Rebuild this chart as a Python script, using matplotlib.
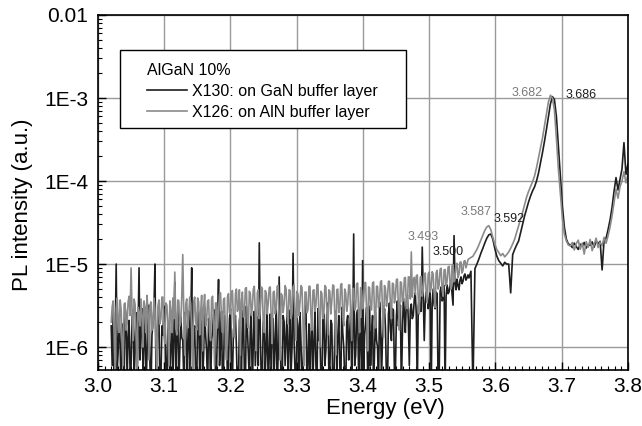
import numpy as np
import matplotlib
matplotlib.use("Agg")
import matplotlib.pyplot as plt
from matplotlib.patches import Rectangle
from matplotlib.ticker import FixedLocator, MultipleLocator, NullFormatter

plt.rcParams["font.family"] = ["Liberation Sans", "DejaVu Sans"]

# PL spectra of AlGaN 10%, intensity in units of 1E-6 (a.u.)
# noisy tail: 3.0200 .. 3.5585 eV every 1.5 meV
# band edge:  3.560  .. 3.800  eV every 3 meV
tail_first, tail_last = 3.020, 3.5585
edge_first, edge_last = 3.560, 3.800

# X130: on GaN buffer layer
x130_tail = [
    1.8, 0.6, 2.7, 0.3, 1.2, 10.0, 0.5, 0.9, 2.4, 1.1, 0.2, 1.9, 1.5, 0.4, 3.0, 2.2, 0.4, 1.3, 2.1, 0.5,
    0.6, 2.3, 2.8, 0.4, 1.1, 2.6, 0.3, 1.5, 9.0, 0.7, 1.7, 2.9, 0.5, 1.2, 2.5, 0.3, 0.8, 2.7, 3.2, 0.6,
    0.3, 1.4, 1.9, 2.8, 10.0, 0.5, 0.7, 2.2, 2.6, 0.3, 0.4, 1.8, 1.4, 2.9, 3.1, 0.6, 0.25, 1.6, 2.0, 0.4,
    1.0, 2.4, 0.4, 1.2, 6.0, 0.5, 1.6, 2.7, 0.3, 0.9, 2.3, 1.3, 1.2, 0.4, 2.6, 1.8, 0.5, 1.1, 2.7, 0.3,
    2.2, 9.0, 0.6, 1.5, 1.8, 0.4, 0.3, 2.6, 2.5, 0.5, 1.3, 2.1, 0.4, 0.8, 3.0, 1.4, 0.9, 0.3, 2.2, 1.7,
    0.3, 1.2, 1.6, 2.5, 2.8, 0.4, 0.5, 2.0, 6.5, 0.6, 1.1, 2.7, 0.3, 0.5, 2.4, 1.9, 1.5, 0.4, 0.6, 2.2,
    2.9, 0.7, 0.4, 1.6, 1.9, 2.4, 1.0, 0.3, 0.3, 2.1, 2.6, 0.5, 1.4, 2.8, 0.5, 0.3, 3.1, 1.7, 0.8, 0.4,
    1.7, 2.5, 0.3, 1.1, 2.7, 0.6, 1.2, 2.3, 0.6, 18.0, 1.5, 0.4, 0.4, 2.0, 2.2, 0.5, 1.0, 2.6, 0.3, 0.8,
    2.5, 0.4, 1.5, 2.2, 0.5, 1.1, 3.0, 0.3, 0.8, 7.0, 1.6, 0.3, 0.3, 2.4, 2.0, 0.6, 1.3, 2.7, 0.4, 1.0,
    2.8, 0.5, 1.0, 13.5, 1.2, 0.5, 0.3, 2.2, 1.8, 0.4, 2.6, 1.1, 0.3, 0.6, 1.4, 2.5, 3.2, 0.3, 0.7, 1.9,
    0.3, 1.3, 2.3, 0.4, 1.1, 2.7, 0.6, 0.3, 2.9, 1.2, 1.6, 0.4, 0.3, 2.2, 2.5, 0.6, 0.9, 2.8, 3.4, 0.5,
    0.5, 2.1, 1.9, 0.3, 0.3, 1.6, 2.7, 0.5, 1.3, 2.4, 0.6, 0.3, 3.0, 1.5, 1.0, 0.4, 0.3, 2.0, 2.4, 0.7,
    1.5, 2.6, 0.4, 1.3, 23.0, 0.6, 0.8, 2.5, 2.8, 0.4, 1.2, 2.2, 0.3, 11.0, 0.5, 1.4, 1.9, 3.0, 0.5, 0.3,
    3.1, 0.6, 1.4, 2.4, 0.3, 0.9, 2.6, 1.2, 1.0, 0.3, 3.5, 2.0, 0.4, 1.3, 2.2, 2.9, 1.7, 0.4, 0.3, 2.5,
    3.4, 1.6, 1.2, 2.9, 2.8, 0.5, 0.5, 2.4, 3.6, 1.8, 2.0, 3.2, 0.3, 1.4, 3.9, 2.6, 1.5, 3.5, 4.2, 2.1,
    0.6, 2.8, 3.3, 2.2, 2.4, 3.8, 4.5, 2.5, 0.3, 3.1, 4.0, 2.7, 2.7, 16.0, 4.1, 1.2, 3.4, 4.6, 4.4, 2.9,
    3.6, 4.8, 0.3, 3.3, 5.0, 3.2, 2.9, 4.6, 4.4, 0.3, 0.4, 4.7, 5.3, 3.6, 3.8, 5.5, 0.3, 4.1, 5.6, 4.4,
    4.6, 5.8, 6.0, 4.4, 3.2, 22.0, 5.8, 4.9, 6.6, 5.5, 4.9, 6.4, 7.0, 5.8, 6.2, 7.2, 7.6, 6.4, 6.8, 7.4,
]
x130_edge = [
    6.8, 8.2, 0.3, 8.8, 10.0, 11.5, 13.5, 15.5, 18.0, 20.5,
    22.5, 23.0, 20.0, 15.5, 12.5, 11.0, 10.2, 9.5, 10.5, 10.0,
    10.0, 4.5, 13.0, 15.0, 17.0, 19.0, 24.0, 30.0, 38.0, 46.0,
    56.0, 66.0, 76.0, 85.0, 100.0, 125.0, 165.0, 220.0, 300.0, 420.0,
    600.0, 850.0, 1040.0, 960.0, 600.0, 260.0, 110.0, 50.0, 28.0, 20.0,
    17.5, 17.0, 15.8, 17.9, 16.2, 15.0, 17.4, 16.4, 18.2, 15.6,
    17.1, 16.8, 18.5, 16.0, 19.0, 17.5, 18.8, 8.5, 19.5, 20.5,
    26.0, 34.0, 48.0, 75.0, 110.0, 78.0, 105.0, 140.0, 290.0, 120.0,
    160.0,
]

# X126: on AlN buffer layer
x126_tail = [
    2.0, 3.1, 3.6, 1.3, 0.4, 2.9, 3.9, 2.2, 1.5, 3.7, 2.8, 1.0, 0.6, 3.3, 3.4, 1.6, 1.9, 3.5, 4.1, 2.4,
    9.0, 2.6, 1.2, 3.8, 3.3, 1.4, 0.5, 3.0, 2.6, 1.8, 3.8, 2.3, 1.0, 3.6, 3.0, 1.5, 4.2, 2.7, 0.7, 3.2,
    3.5, 1.6, 1.8, 3.9, 2.9, 1.2, 0.4, 3.1, 3.7, 1.9, 2.2, 4.0, 4.0, 1.4, 1.1, 3.4, 3.2, 2.0, 0.6, 3.6,
    2.7, 1.5, 3.9, 2.2, 8.0, 1.7, 1.4, 3.7, 3.6, 1.8, 2.0, 4.1, 13.0, 2.5, 0.8, 3.3, 3.8, 1.7, 2.4, 4.0,
    3.3, 1.6, 0.5, 3.5, 4.0, 2.1, 1.6, 3.9, 3.5, 1.4, 2.6, 4.2, 0.9, 3.0, 4.3, 1.8, 2.1, 3.6, 3.7, 1.5,
    1.2, 3.8, 4.1, 2.0, 0.6, 3.4, 3.4, 1.7, 2.8, 4.3, 4.5, 2.2, 1.5, 3.7, 3.9, 1.3, 0.7, 4.0, 4.4, 2.6,
    2.5, 4.6, 4.8, 2.1, 1.3, 4.4, 5.0, 2.7, 3.1, 4.9, 0.8, 3.6, 4.6, 2.3, 2.4, 5.1, 5.2, 2.0, 1.7, 4.7,
    4.4, 2.4, 3.0, 5.0, 5.4, 2.6, 0.9, 4.5, 4.9, 2.2, 2.7, 5.3, 5.1, 2.0, 1.5, 4.8, 4.5, 2.5, 3.4, 5.2,
    5.3, 2.3, 1.1, 4.6, 4.7, 2.5, 2.9, 5.4, 5.5, 2.1, 0.7, 4.4, 4.2, 2.6, 3.3, 5.5, 5.0, 2.4, 1.9, 4.9,
    4.8, 2.2, 2.6, 5.3, 5.6, 2.5, 1.2, 4.7, 4.3, 2.4, 3.5, 5.5, 5.2, 2.0, 0.6, 4.6, 4.6, 2.6, 2.8, 5.4,
    5.4, 2.4, 1.6, 4.8, 4.9, 2.7, 3.2, 5.6, 5.7, 2.3, 1.0, 4.7, 4.4, 2.2, 2.5, 5.5, 5.3, 2.8, 1.4, 4.9,
    4.7, 2.5, 3.6, 5.6, 5.5, 2.4, 0.8, 4.9, 5.0, 2.6, 2.9, 5.7, 5.8, 2.3, 1.8, 5.0, 4.5, 2.7, 3.3, 5.6,
    5.6, 2.6, 1.2, 5.0, 5.1, 2.8, 3.0, 5.8, 5.9, 2.4, 1.5, 5.2, 4.8, 2.9, 3.7, 5.9, 6.0, 2.7, 0.9, 5.3,
    5.2, 2.9, 2.8, 5.9, 6.1, 2.6, 1.7, 5.4, 5.4, 3.0, 3.5, 6.1, 6.3, 2.8, 1.3, 5.5, 5.0, 3.1, 3.9, 6.2,
    6.2, 3.2, 2.2, 5.9, 5.7, 3.4, 4.0, 6.5, 6.6, 3.0, 1.6, 6.1, 6.0, 3.5, 3.8, 6.8, 6.9, 3.3, 2.9, 7.0,
    7.0, 3.8, 14.0, 4.0, 6.4, 6.9, 4.3, 7.2, 7.4, 3.9, 2.5, 6.9, 7.1, 4.1, 4.8, 7.5, 7.8, 4.4, 3.4, 7.6,
    8.0, 4.6, 5.2, 8.1, 7.6, 4.2, 3.0, 7.9, 8.4, 5.0, 5.6, 8.7, 8.9, 4.9, 4.1, 8.5, 8.6, 5.5, 6.2, 9.2,
    9.4, 5.6, 5.0, 9.5, 9.8, 6.1, 6.8, 10.0, 10.2, 6.9, 7.5, 10.5, 10.6, 7.8, 8.4, 10.8, 11.0, 9.0, 10.0, 11.2,
]
x126_edge = [
    11.6, 12.0, 12.4, 13.6, 15.0, 17.0, 19.5, 22.5, 25.5, 28.0,
    29.0, 26.0, 21.0, 17.5, 15.0, 13.8, 12.6, 13.4, 12.2, 13.0,
    14.0, 15.5, 17.5, 20.0, 24.0, 29.0, 35.0, 42.0, 52.0, 64.0,
    75.0, 86.0, 98.0, 115.0, 145.0, 190.0, 250.0, 330.0, 460.0, 650.0,
    900.0, 1080.0, 1000.0, 720.0, 330.0, 140.0, 70.0, 36.0, 23.0, 19.0,
    17.0, 16.5, 18.2, 14.8, 17.6, 19.4, 15.1, 17.9, 13.2, 18.6,
    16.0, 19.8, 14.5, 17.3, 20.5, 15.8, 18.4, 16.6, 21.0, 17.8,
    22.0, 28.0, 38.0, 55.0, 80.0, 62.0, 85.0, 100.0, 130.0, 95.0,
    120.0,
]

# peak energies written next to the spectra
peak_names = ["3.493", "3.500", "3.587", "3.592", "3.682", "3.686"]
peak_text_x = [3.491, 3.529, 3.571, 3.620, 3.648, 3.729]
peak_text_y = [2.1e-5, 1.4e-5, 4.2e-5, 3.5e-5, 1.15e-3, 1.09e-3]
peak_dark = [False, True, False, True, False, True]

ytick_vals = [1e-6, 1e-5, 1e-4, 1e-3, 1e-2]
ytick_text = ["1E-6", "1E-5", "1E-4", "1E-3", "0.01"]
xtick_vals = [3.0, 3.1, 3.2, 3.3, 3.4, 3.5, 3.6, 3.7, 3.8]

black = "#1e1e1e"
grey = "#8a8a8a"

energy = np.concatenate([np.linspace(tail_first, tail_last, len(x130_tail)),
                         np.linspace(edge_first, edge_last, len(x130_edge))])
gan = np.array(x130_tail + x130_edge) * 1e-6
aln = np.array(x126_tail + x126_edge) * 1e-6

fig = plt.figure(figsize=(6.42, 4.26), dpi=100)
ax = fig.add_axes([0.1526, 0.1315, 0.8255, 0.8333])

ax.plot(energy, gan, color=black, lw=1.2, label="X130: on GaN buffer layer")
ax.plot(energy, aln, color=grey, lw=1.2, label="X126: on AlN buffer layer")

ax.set_yscale("log")
ax.set_xlim(3.0, 3.8)
ax.set_ylim(5.3e-7, 1e-2)

ax.yaxis.set_major_locator(FixedLocator(ytick_vals))
ax.set_yticklabels(ytick_text)
minor_y = [m * 10.0 ** k for k in range(-7, -2) for m in range(2, 10)]
ax.yaxis.set_minor_locator(FixedLocator(minor_y))
ax.yaxis.set_minor_formatter(NullFormatter())
ax.xaxis.set_major_locator(FixedLocator(xtick_vals))
ax.set_xticklabels(["%.1f" % v for v in xtick_vals])
ax.xaxis.set_minor_locator(MultipleLocator(0.01))

ax.tick_params(which="major", direction="in", length=6, width=1.0,
               labelsize=15)
ax.tick_params(axis="y", which="major", pad=7)
ax.tick_params(axis="x", which="major", pad=5)
ax.tick_params(which="minor", direction="in", length=3, width=0.8)
ax.tick_params(top=False, right=False, which="both")
for s in ax.spines.values():
    s.set_linewidth(1.2)

ax.grid(True, which="major", color="#9a9a9a", lw=1.0)

for name, tx, ty, dark in zip(peak_names, peak_text_x, peak_text_y, peak_dark):
    ax.text(tx, ty, name, fontsize=9, ha="center", va="center",
            color=black if dark else "#7a7a7a", zorder=6)

ax.set_xlabel("Energy (eV)", fontsize=16)
ax.xaxis.set_label_coords(0.543, -0.08)
ax.set_ylabel("PL intensity (a.u.)", fontsize=16)
ax.yaxis.set_label_coords(-0.123, 0.465)

# legend box drawn separately so the padding matches the layout
ax.add_patch(Rectangle((0.0415, 0.682), 0.5396, 0.2197, transform=ax.transAxes,
                       facecolor="white", edgecolor="black", lw=1.0, zorder=4.5))
leg = ax.legend(title="AlGaN 10%", loc="upper left", bbox_to_anchor=(0.0925, 0.866),
                frameon=False, fontsize=11.5, title_fontsize=11.5, alignment="left",
                handlelength=2.5, handletextpad=0.3, labelspacing=0.38,
                borderpad=0, borderaxespad=0)
leg.set_zorder(5)

fig.savefig("out.png", dpi=100)
